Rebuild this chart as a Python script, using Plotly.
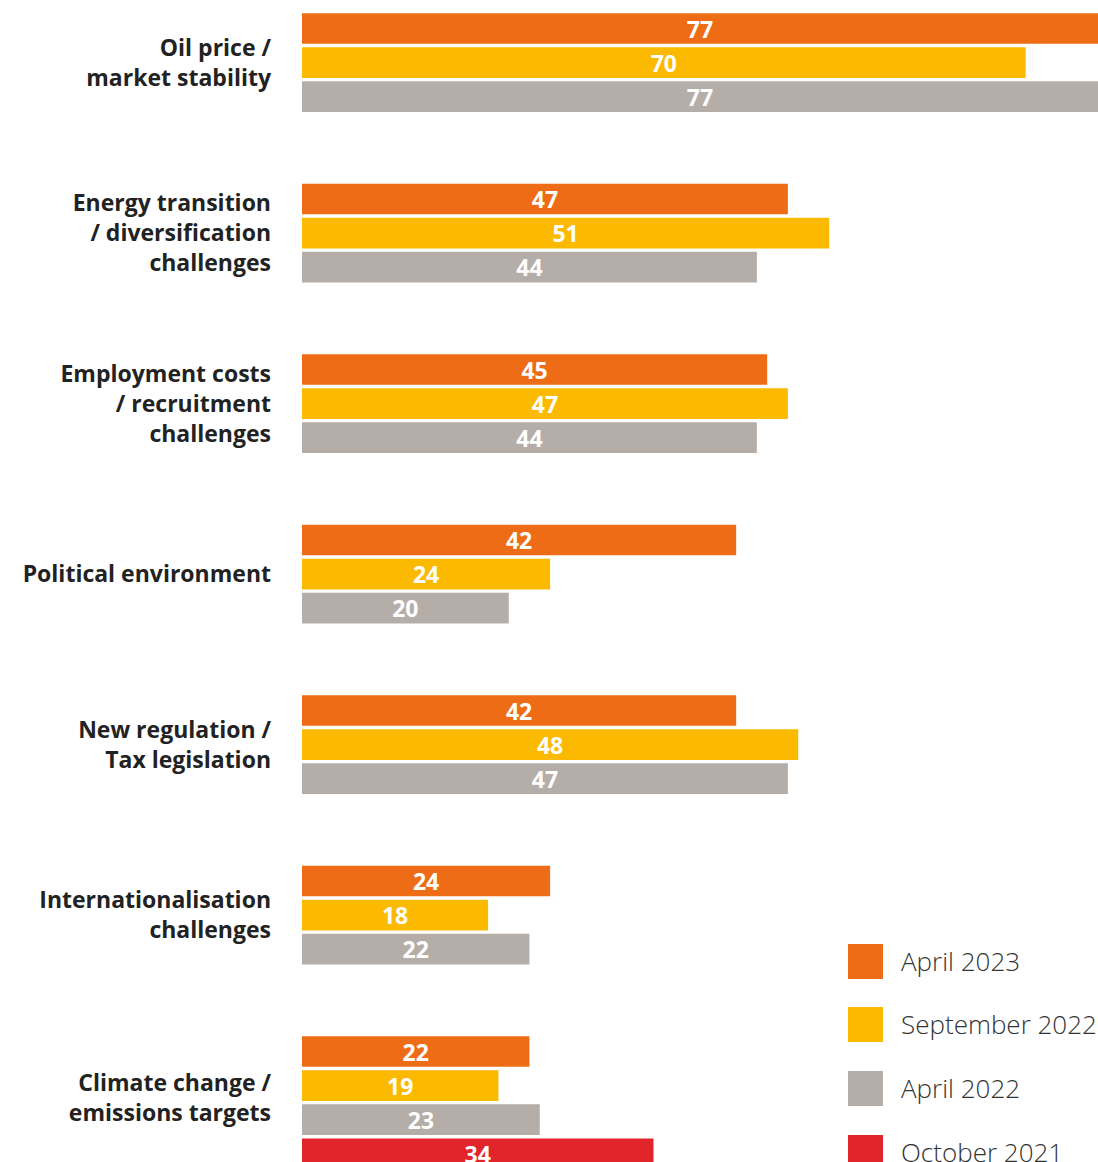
import plotly.graph_objects as go

# Survey categories (top to bottom) and the share of respondents per wave
categories = [
    "Oil price /<br>market stability",
    "Energy transition<br>/ diversification<br>challenges",
    "Employment costs<br>/ recruitment<br>challenges",
    "Political environment",
    "New regulation /<br>Tax legislation",
    "Internationalisation<br>challenges",
    "Climate change /<br>emissions targets",
]
series_names = ["April 2023", "September 2022", "April 2022", "October 2021"]
april_2023 = [77, 47, 45, 42, 42, 24, 22]
september_2022 = [70, 51, 47, 24, 48, 18, 19]
april_2022 = [77, 44, 44, 20, 47, 22, 23]
october_2021 = [None, None, None, None, None, None, 34]

series_values = [april_2023, september_2022, april_2022, october_2021]
colors = ["#EE6C15", "#FBB900", "#B5ADA7", "#E2252B"]

SLOTS = 5  # bar slots per category group (incl. spacing)

fig = go.Figure()
for s, (name, vals, col) in enumerate(zip(series_names, series_values, colors)):
    xs, ys, txt = [], [], []
    for g, v in enumerate(vals):
        if v is None:
            continue
        xs.append(v)
        ys.append(g * SLOTS + s)
        txt.append(str(v))
    fig.add_trace(go.Bar(
        x=xs, y=ys, orientation="h", name=name,
        marker=dict(color=col, line=dict(width=0)),
        width=0.9,
        text=txt, textposition="inside", insidetextanchor="middle", textangle=0,
        textfont=dict(family="Open Sans", size=23, color="white", weight="bold"),
        showlegend=False, hoverinfo="skip",
    ))

# Category label sits near the centre of the group's bars
bars_per_group = [sum(v[g] is not None for v in series_values) for g in range(len(categories))]
tick_positions = [g * SLOTS + min(n - 1, 2.7) / 2 for g, n in enumerate(bars_per_group)]

# Custom legend: large square swatches with light labels
legend_top_px = [944, 1007, 1071, 1135]
W, H = 1098, 1162
L = 302
pw = W - L
for name, col, top in zip(series_names, colors, legend_top_px):
    x0 = (848 - L) / pw
    x1 = (883 - L) / pw
    y0 = 1 - (top + 35) / H
    y1 = 1 - top / H
    fig.add_shape(type="rect", xref="paper", yref="paper",
                  x0=x0, x1=x1, y0=y0, y1=y1,
                  fillcolor=col, line=dict(width=0))
    fig.add_annotation(xref="paper", yref="paper",
                       x=(899 - L) / pw, y=1 - (top + 16.5) / H,
                       text=name, showarrow=False, xanchor="left", yanchor="middle",
                       font=dict(family="Open Sans", size=26, color="#333333", weight=300))

fig.update_layout(
    width=W, height=H,
    margin=dict(l=L, r=0, t=0, b=0),
    paper_bgcolor="white", plot_bgcolor="white",
    barmode="overlay",
    xaxis=dict(visible=False, range=[0, 77], fixedrange=True),
    yaxis=dict(
        range=[(H - 28.5) / 34.1, -28.5 / 34.1],
        tickvals=tick_positions,
        ticktext=categories,
        showgrid=False, zeroline=False, showline=False, ticks="",
        ticklabelstandoff=30,
        tickfont=dict(family="Open Sans", size=23, color="#222222", weight="bold"),
    ),
)
fig.update_traces(constraintext="none", cliponaxis=True)

fig.write_html("out.html")
